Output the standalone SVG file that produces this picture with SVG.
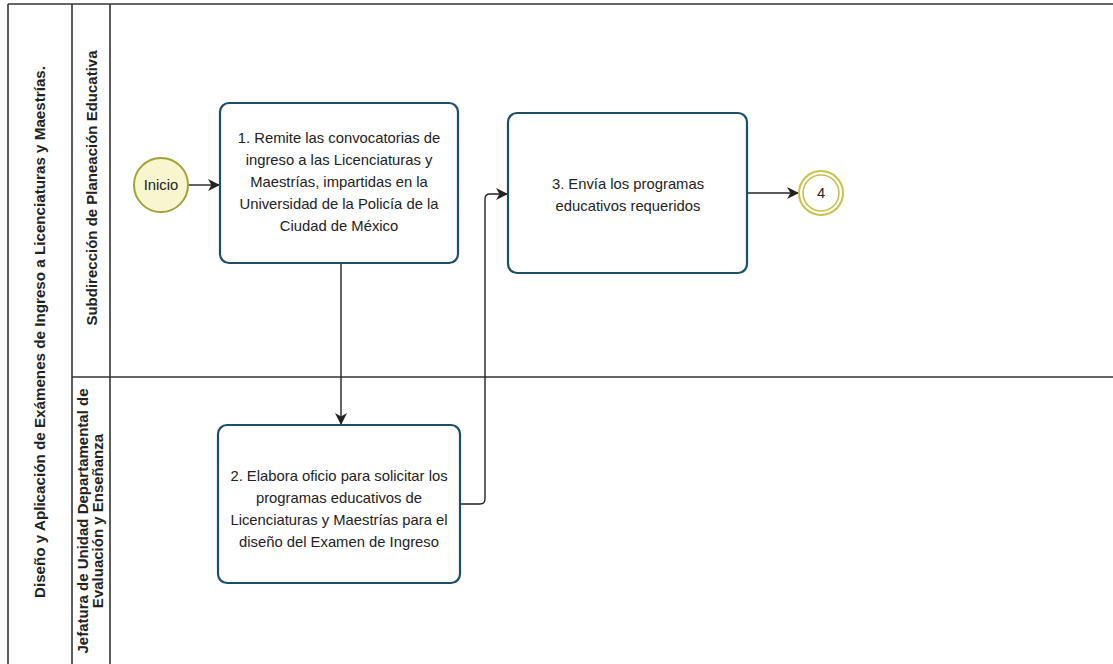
<svg xmlns="http://www.w3.org/2000/svg" width="1113" height="664" viewBox="0 0 1113 664">
  <defs>
    <marker id="arrow" viewBox="0 0 12 12" refX="11" refY="6" markerWidth="12" markerHeight="12" markerUnits="userSpaceOnUse" orient="auto">
      <path d="M0,0 L12,6 L0,12 L3.5,6 Z" fill="#222"/>
    </marker>
  </defs>
  <style>
    .frame { fill: none; stroke: #333; stroke-width: 1.6; }
    .task { fill: #ffffff; stroke: #1c4e68; stroke-width: 2.2; }
    .glow { fill: none; stroke: #a9d6ea; stroke-width: 2; }
    .txt { font-family: "Liberation Sans", Arial, sans-serif; font-size: 14.8px; fill: #222; text-anchor: middle; }
    .lbl { font-family: "Liberation Sans", Arial, sans-serif; font-weight: bold; fill: #222; text-anchor: middle; }
    .flow { fill: none; stroke: #222; stroke-width: 1.4; }
  </style>
  <rect width="1113" height="664" fill="#ffffff"/>

  <!-- pool and lanes -->
  <g id="pool">
    <line class="frame" x1="8" y1="4" x2="1113" y2="4"/>
    <line class="frame" x1="8" y1="4" x2="8" y2="664"/>
    <line class="frame" x1="72" y1="4" x2="72" y2="664"/>
    <line class="frame" x1="110" y1="4" x2="110" y2="664"/>
    <line class="frame" x1="72" y1="377" x2="1113" y2="377"/>
    <text class="lbl" font-size="15.2" transform="translate(45,332) rotate(-90)">Diseño y Aplicación de Exámenes de Ingreso a Licenciaturas y Maestrías.</text>
  </g>
  <g id="lane1">
    <text class="lbl" font-size="15" transform="translate(97,188) rotate(-90)">Subdirección de Planeación Educativa</text>
  </g>
  <g id="lane2">
    <text class="lbl" font-size="15" transform="translate(88,521) rotate(-90)">Jefatura de Unidad Departamental de</text>
    <text class="lbl" font-size="15" transform="translate(103,521) rotate(-90)">Evaluación y Enseñanza</text>
  </g>

  <!-- connectors -->
  <g id="connectors">
    <line class="flow" x1="189" y1="185" x2="219" y2="185" marker-end="url(#arrow)"/>
    <line class="flow" x1="341" y1="264" x2="341" y2="424" marker-end="url(#arrow)"/>
    <path class="flow" d="M461,504 L480,504 Q485,504 485,499 L485,199 Q485,194 490,194 L507,194" marker-end="url(#arrow)"/>
    <line class="flow" x1="748" y1="193" x2="798" y2="193" marker-end="url(#arrow)"/>
  </g>

  <g id="start">
    <circle cx="161" cy="185" r="27" fill="#f8f6cf" stroke="#9fa43a" stroke-width="2"/>
    <text class="txt" x="161" y="190">Inicio</text>
  </g>

  <g id="task1">
    <rect class="glow" x="222" y="105" width="234" height="156" rx="7"/>
    <rect class="task" x="220" y="103" width="238" height="160" rx="9"/>
    <text class="txt" x="339" y="143">1.  Remite las convocatorias de</text>
    <text class="txt" x="339" y="165">ingreso a las Licenciaturas y</text>
    <text class="txt" x="339" y="187">Maestrías, impartidas en la</text>
    <text class="txt" x="339" y="209">Universidad de la Policía de la</text>
    <text class="txt" x="339" y="231">Ciudad de México</text>
  </g>

  <g id="task2">
    <rect class="glow" x="220" y="427" width="238" height="154" rx="7"/>
    <rect class="task" x="218" y="425" width="242" height="158" rx="9"/>
    <text class="txt" x="339" y="481">2. Elabora oficio para solicitar los</text>
    <text class="txt" x="339" y="503">programas educativos de</text>
    <text class="txt" x="339" y="525">Licenciaturas y Maestrías para el</text>
    <text class="txt" x="339" y="547">diseño del Examen de Ingreso</text>
  </g>

  <g id="task3">
    <rect class="glow" x="510" y="115" width="235" height="156" rx="7"/>
    <rect class="task" x="508" y="113" width="239" height="160" rx="9"/>
    <text class="txt" x="628" y="189">3.  Envía los programas</text>
    <text class="txt" x="628" y="211">educativos requeridos</text>
  </g>

  <g id="link4">
    <circle cx="821" cy="193" r="22" fill="#ffffff" stroke="#c8c24a" stroke-width="2"/>
    <circle cx="821" cy="193" r="18" fill="#ffffff" stroke="#c8c24a" stroke-width="1.6"/>
    <text class="txt" x="821" y="198">4</text>
  </g>
</svg>
